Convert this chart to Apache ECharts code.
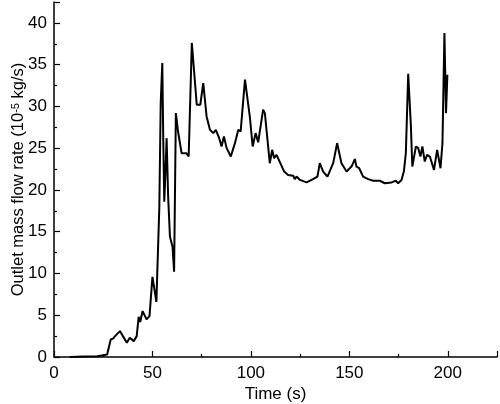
<!DOCTYPE html>
<html>
<head>
<meta charset="utf-8">
<script src="https://cdn.jsdelivr.net/npm/echarts@6/dist/echarts.min.js"></script>
<style>
  html, body { margin: 0; padding: 0; background: #fff; }
  #chart { width: 500px; height: 404px; }
</style>
</head>
<body>
<div id="chart"></div>
<script>
// time (s)
var times = [8, 15, 22, 25, 27, 28, 28.8, 30, 31, 32, 33.5, 35, 37, 38.5, 40.5, 42, 43, 43.8, 45, 47,
  48.5, 50, 51, 52, 53.5, 54.2, 55, 55.5, 56, 56.6, 57.2, 58, 58.9, 60.2, 61, 61.9, 63, 64.8, 67.2, 68.4,
  70, 72.5, 74.3, 75.8, 77.5, 79.2, 80.9, 82.2, 83.9, 85.1, 86.3, 87.7, 89.8, 91.9, 93.6, 94.8, 97, 99.5, 100.9, 102.4,
  103.7, 104.6, 106.2, 107.1, 109.6, 110.8, 111.8, 113, 114.2, 115.2, 116.9, 118.9, 121.5, 122.3, 123.2, 124.9, 128.3, 131.6, 133.8, 135,
  136.7, 138.9, 141.8, 143.8, 146, 148.6, 151.1, 152.8, 153.6, 155, 157, 159.6, 162.1, 165.5, 168, 171.4, 173.6, 174.8, 176.5, 177.7,
  178.7, 179.9, 181.2, 182, 183.8, 185, 186.1, 187.1, 188.3, 189.5, 190.9, 193, 194.6, 195.4, 196.3, 197.3, 198.3, 199.1, 199.8];
// outlet mass flow rate (10^-5 kg/s)
var flowRate = [0, 0.05, 0.1, 0.2, 0.3, 0.5, 2.1, 2.2, 2.5, 2.4, 3.1, 2.5, 1.7, 2.3, 1.9, 2.5, 4.8, 4.2, 5.5, 4.5,
  4.9, 9.6, 9.7, 6.6, 18, 30.4, 35.2, 26, 18.6, 22, 26.2, 19, 14.4, 13.2, 10.2, 29.2, 27, 24.4, 24.4, 24,
  37.6, 30.2, 30.2, 32.8, 28.8, 27.2, 26.8, 27.2, 26.2, 25.2, 26.4, 25, 24, 25.6, 27.2, 27, 33.2, 28.7, 25.2, 26.8,
  25.7, 25.6, 29.6, 29.2, 23.2, 24.8, 23.8, 24.2, 23.6, 23.8, 22.2, 21.8, 21.7, 21.3, 21.6, 21.2, 20.9, 21.3, 21.6, 23.2,
  22.2, 21.6, 23.2, 25.6, 23.2, 22.2, 22.8, 23.7, 22.8, 22.6, 21.6, 21.3, 21.1, 21.1, 20.8, 20.9, 21.1, 20.8, 21.2, 22.2,
  24.4, 33.9, 28, 22.8, 25.2, 25, 24, 25.2, 23.4, 24.2, 24, 22.4, 24.8, 25, 22.6, 25.6, 38.8, 29.2, 33.8];

var xTicks = [0, 50, 100, 150, 200];
var yTicks = [0, 5, 10, 15, 20, 25, 30, 35, 40];

var chart = echarts.init(document.getElementById('chart'));
var font = 'Liberation Sans, Arial, sans-serif';

var points = [];
for (var i = 0; i < times.length; i++) {
  points.push([times[i], flowRate[i]]);
}

var axisCommon = {
  axisLine: { show: true, onZero: false, lineStyle: { color: '#000', width: 1.5 } },
  axisTick: { show: true, inside: true, length: 6, lineStyle: { color: '#000', width: 1.2 } },
  minorTick: { show: true, splitNumber: 2, length: 3, lineStyle: { color: '#000', width: 1.2 } },
  splitLine: { show: false },
  axisLabel: { color: '#000', fontFamily: font, fontSize: 17 }
};

chart.setOption({
  backgroundColor: '#fff',
  animation: false,
  grid: { left: 54, right: 3, top: 2, bottom: 47, outerBoundsMode: 'none', containLabel: false },
  xAxis: Object.assign({}, axisCommon, {
    type: 'value',
    min: 0,
    max: 225,
    interval: 50,
    name: 'Time (s)',
    nameLocation: 'middle',
    nameGap: 29,
    nameMoveOverlap: false,
    nameTextStyle: { color: '#000', fontFamily: font, fontSize: 17 },
    axisLabel: Object.assign({}, axisCommon.axisLabel, {
      margin: 8,
      formatter: function (v) { return xTicks.indexOf(v) >= 0 ? v : ''; }
    })
  }),
  yAxis: Object.assign({}, axisCommon, {
    type: 'value',
    min: 0,
    max: 42.5,
    interval: 5,
    name: '{a|Outlet mass flow rate (10}{s|-5}{a| kg/s)}',
    nameLocation: 'middle',
    nameGap: 27,
    nameMoveOverlap: false,
    nameTextStyle: {
      color: '#000',
      fontFamily: font,
      fontSize: 16.5,
      rich: {
        a: { fontFamily: font, fontSize: 16.5, color: '#000' },
        s: { fontFamily: font, fontSize: 11, color: '#000', verticalAlign: 'top', padding: [0, 0, 6, 0] }
      }
    },
    axisLabel: Object.assign({}, axisCommon.axisLabel, {
      margin: 7,
      formatter: function (v) { return yTicks.indexOf(v) >= 0 ? v : ''; }
    })
  }),
  series: [{
    type: 'line',
    data: points,
    showSymbol: false,
    lineStyle: { color: '#000', width: 2 },
    itemStyle: { color: '#000' }
  }]
});
</script>
</body>
</html>
